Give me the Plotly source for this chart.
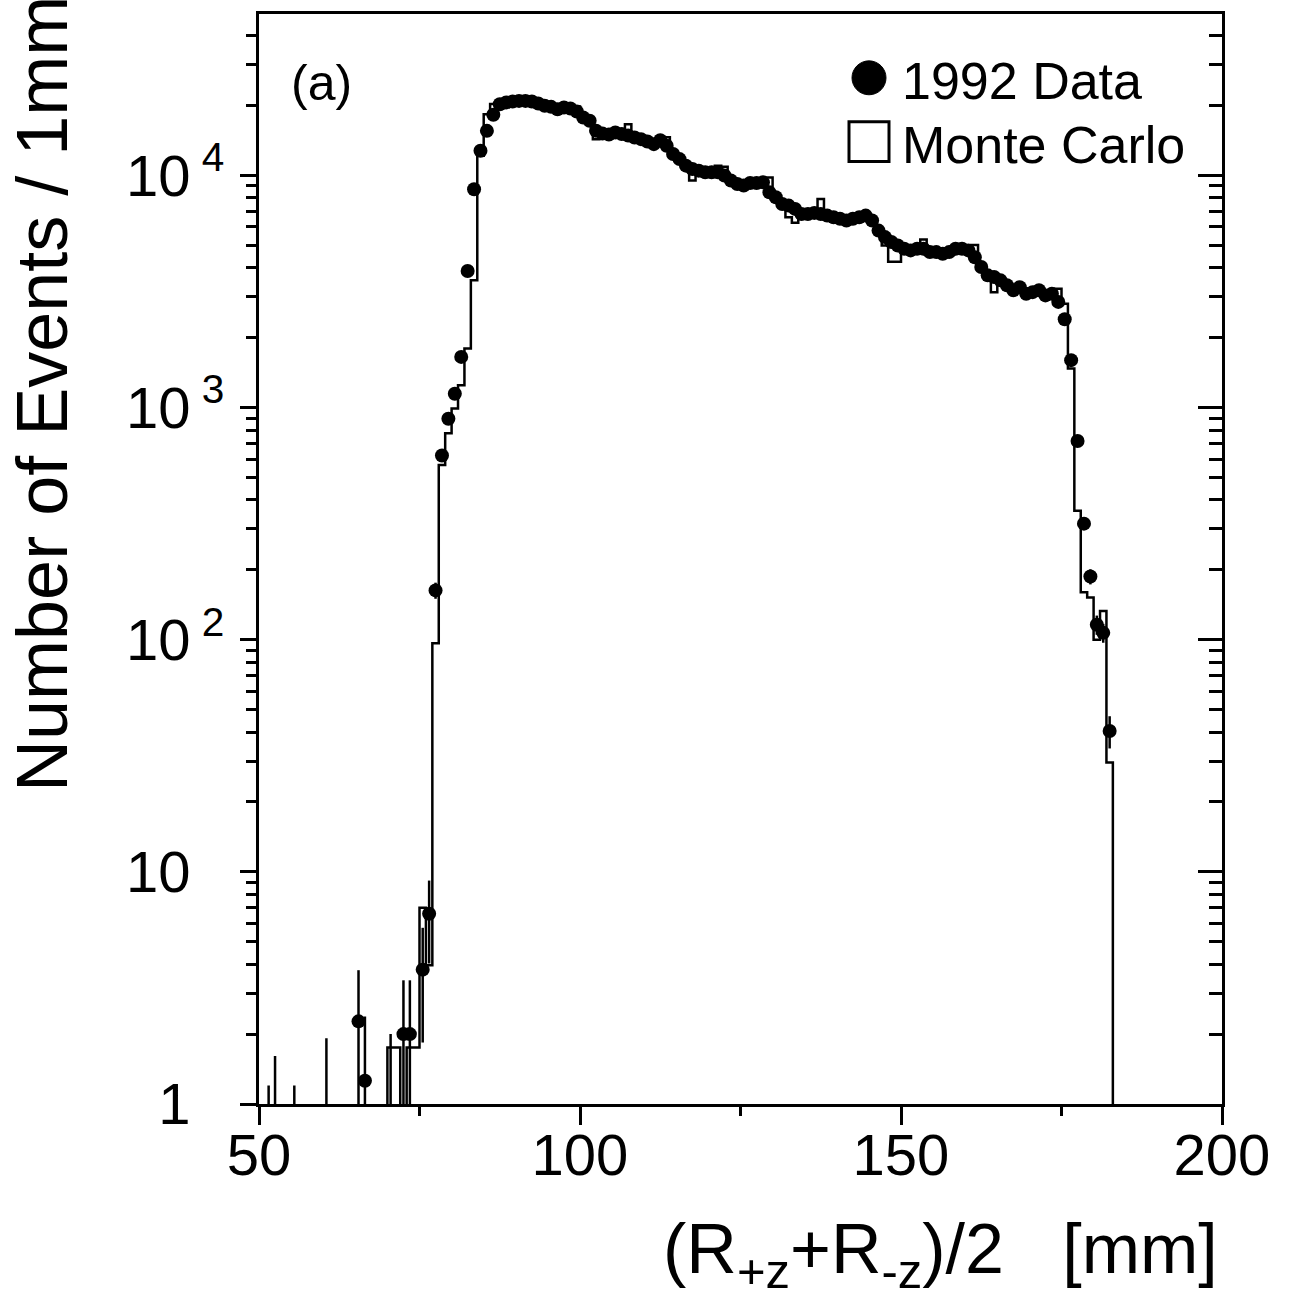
import plotly.graph_objects as go

# ---------------- data ----------------
# Data points (1992 Data): bin centres, counts, visible (upper) statistical error
data_x_low = [51.5, 52.5, 55.5, 60.5, 65.5, 66.5, 70.5, 72.5, 73.5, 75.5, 76.5]
data_y_low = [0.45, 0.75, 0.45, 0.90, 2.27, 1.26, 0.93, 2.00, 2.00, 3.79, 6.60]
data_e_low = [0.75, 0.86, 0.75, 1.02, 1.50, 1.12, 1.07, 1.41, 1.41, 1.95, 2.57]

data_x_main = [n + 0.5 for n in range(77, 183)]
data_y_main = [
    163, 621, 895, 1146, 1652, 3870, 8710, 12770, 15550, 18230,          # 77-86
    20240, 20600, 20800, 20930, 20930, 20800, 20400, 19950, 19730, 19270,  # 87-96
    19600, 19400, 18840, 17750, 17180, 15560, 15130, 15000, 15300, 15070,  # 97-106
    14830, 14560, 14320, 14000, 13630, 14180, 13420, 12360, 11750, 11010,  # 107-116
    10650, 10480, 10300, 10300, 10300, 9990, 9500, 9180, 9040, 9270,       # 117-126
    9270, 9330, 8450, 8050, 7530, 7410, 7170, 6820, 6820, 6890,            # 127-136
    6820, 6710, 6600, 6500, 6390, 6500, 6600, 6710, 6390, 5780,            # 137-146
    5420, 5160, 4990, 4830, 4750, 4830, 4830, 4670, 4670, 4590,            # 147-156
    4670, 4830, 4830, 4750, 4440, 4030, 3710, 3650, 3530, 3360,            # 157-166
    3200, 3300, 3090, 3140, 3200, 3040, 3090, 2850, 2400, 1600,            # 167-176
    717, 316, 187, 116, 107, 40.4,                                         # 177-182
]
data_e_main = [
    13, 25, 0, 0, 0, 0, 0, 0, 0, 0,
    0, 0, 0, 0, 0, 0, 0, 0, 0, 0,
    0, 0, 0, 0, 0, 0, 0, 0, 0, 0,
    0, 0, 0, 0, 0, 0, 0, 0, 0, 0,
    0, 0, 0, 0, 0, 0, 0, 0, 0, 0,
    0, 0, 0, 0, 0, 0, 0, 0, 0, 0,
    0, 0, 0, 0, 0, 0, 0, 0, 0, 0,
    0, 0, 0, 0, 0, 0, 0, 0, 0, 0,
    0, 0, 0, 0, 0, 0, 0, 0, 0, 0,
    0, 0, 0, 0, 0, 0, 0, 0, 0, 40,
    27, 18, 14, 11, 10, 6.4,
]

# Monte Carlo histogram: bin low edges (1 mm bins) and contents
mc_lo = list(range(69, 184))
mc_val = [
    0, 1.75, 1.75, 0, 1.75, 1.75, 7.0, 3.96,                             # 69-76
    96.6, 566, 774, 991, 1248, 1794, 3530, 12160, 18350, 20280,            # 77-86
    20800, 20700, 20900, 21000, 21000, 20800, 20400, 20000, 19700, 19300,  # 87-96
    19600, 19400, 19800, 17800, 17200, 14300, 15100, 15000, 15300, 15100,  # 97-106
    16600, 14600, 14300, 14000, 13600, 14700, 14600, 12400, 11700, 11000,  # 107-116
    9500, 10500, 10300, 10300, 11000, 10900, 9600, 9200, 9000, 9300,       # 117-126
    9300, 9400, 9800, 8050, 7500, 6600, 6250, 6800, 6800, 6900,            # 127-136
    7900, 6700, 6600, 6500, 6400, 6500, 6600, 6700, 6400, 5800,            # 137-146
    4990, 4250, 4250, 4800, 4750, 4800, 5290, 4650, 4650, 4600,            # 147-156
    4650, 4800, 4800, 4750, 5010, 4000, 3700, 3140, 3500, 3350,            # 157-166
    3200, 3300, 3100, 3150, 3200, 3050, 3100, 3250, 2800, 1472,            # 167-176
    359, 160, 152, 100, 133, 29.6, 0,                                      # 177-183
]

x_ticks = [50, 100, 150, 200]
x_minor = [75, 125, 175]
y_ticks = [1, 10, 100, 1000, 10000]
PAD = "<sup>&nbsp;&nbsp;&nbsp;</sup>"
y_ticktext = ["1" + PAD, "10" + PAD, "10<sup> 2</sup>", "10<sup> 3</sup>", "10<sup> 4</sup>"]
y_minor = [m * 10 ** d for d in range(0, 5) for m in range(2, 10)]

legend_labels = ["1992 Data", "Monte Carlo"]
panel_label = "(a)"
x_title = "(R<sub>+z</sub>+R<sub>-z</sub>)/2&nbsp;&nbsp;&nbsp;[mm]"
y_title = "Number of Events / 1mm"

# ---------------- geometry ----------------
W, H = 1289, 1314
L, R, T, B = 259, 1222, 11, 1104
FONT = "Liberation Sans, Arial, Helvetica, sans-serif"


def px(xp):
    return (xp - L) / (R - L)


def py(yp):
    return (B - yp) / (B - T)


data_x = data_x_low + data_x_main
data_y = data_y_low + data_y_main
data_e = data_e_low + data_e_main
data_em = [min(e, y * 0.99) for e, y in zip(data_e, data_y)]

mc_y = [v if v > 0 else 1e-3 for v in mc_val]

fig = go.Figure()
fig.add_trace(go.Scatter(
    x=mc_lo, y=mc_y, mode="lines", line=dict(shape="hv", color="black", width=2.5),
    showlegend=False, hoverinfo="skip"))
fig.add_trace(go.Scatter(
    x=data_x, y=data_y, mode="markers",
    marker=dict(color="black", size=14, symbol="circle"),
    error_y=dict(type="data", array=data_e, arrayminus=data_em, visible=True,
                 color="black", thickness=2.5, width=0),
    showlegend=False))
# invisible trace on the right-hand axis so that it is drawn
fig.add_trace(go.Scatter(x=[100], y=[100], yaxis="y2", mode="markers",
                         marker=dict(opacity=0), showlegend=False, hoverinfo="skip"))

yrange = [0, 4.695]
fig.update_layout(
    width=W, height=H,
    margin=dict(l=L, r=W - R, t=T, b=H - B),
    paper_bgcolor="white", plot_bgcolor="white",
    font=dict(family=FONT, color="black"),
    xaxis=dict(range=[50, 200], tickmode="array", tickvals=x_ticks,
               ticks="outside", ticklen=18, tickwidth=2.5, tickcolor="black",
               minor=dict(tickmode="array", tickvals=x_minor, ticks="outside",
                          ticklen=9, tickwidth=2.5, tickcolor="black", showgrid=False),
               showline=True, linewidth=3, linecolor="black", mirror=True,
               showgrid=False, zeroline=False, ticklabelstandoff=-20,
               tickfont=dict(size=58, family=FONT, color="black")),
    yaxis=dict(type="log", range=yrange, tickmode="array", tickvals=y_ticks,
               ticktext=y_ticktext,
               ticks="outside", ticklen=16, tickwidth=2.5, tickcolor="black",
               minor=dict(tickmode="array", tickvals=y_minor, ticks="outside",
                          ticklen=10, tickwidth=2.5, tickcolor="black", showgrid=False),
               showline=True, linewidth=3, linecolor="black", mirror=True,
               showgrid=False, zeroline=False, ticklabelstandoff=4,
               tickfont=dict(size=58, family=FONT, color="black")),
    yaxis2=dict(type="log", range=yrange, overlaying="y", side="right", anchor="x",
                tickmode="array", tickvals=y_ticks, showticklabels=False,
                ticks="inside", ticklen=24, tickwidth=2.5, tickcolor="black",
                minor=dict(tickmode="array", tickvals=y_minor, ticks="inside",
                           ticklen=13, tickwidth=2.5, tickcolor="black", showgrid=False),
                showline=False, showgrid=False, zeroline=False),
)

ann = []
ann.append(dict(text=y_title, xref="paper", yref="paper", x=px(42), y=py(392),
                textangle=-90, showarrow=False, xanchor="center", yanchor="middle",
                font=dict(size=72, family=FONT, color="black")))
ann.append(dict(text=x_title, xref="paper", yref="paper", x=px(1220), y=py(1254),
                showarrow=False, xanchor="right", yanchor="middle",
                font=dict(size=70, family=FONT, color="black")))
ann.append(dict(text=panel_label, xref="paper", yref="paper", x=px(289), y=py(80),
                showarrow=False, xanchor="left", yanchor="middle",
                font=dict(size=50, family=FONT, color="black")))
ann.append(dict(text=legend_labels[0], xref="paper", yref="paper", x=px(900), y=py(78),
                showarrow=False, xanchor="left", yanchor="middle",
                font=dict(size=52, family=FONT, color="black")))
ann.append(dict(text=legend_labels[1], xref="paper", yref="paper", x=px(900), y=py(142),
                showarrow=False, xanchor="left", yanchor="middle",
                font=dict(size=52, family=FONT, color="black")))
fig.update_layout(annotations=ann)

fig.update_layout(shapes=[
    dict(type="circle", xref="paper", yref="paper",
         x0=px(852), x1=px(886), y0=py(92), y1=py(58),
         fillcolor="black", line=dict(color="black", width=1)),
    dict(type="rect", xref="paper", yref="paper",
         x0=px(849), x1=px(889), y0=py(159), y1=py(119),
         fillcolor="rgba(0,0,0,0)", line=dict(color="black", width=3)),
])

fig.write_html("out.html")
